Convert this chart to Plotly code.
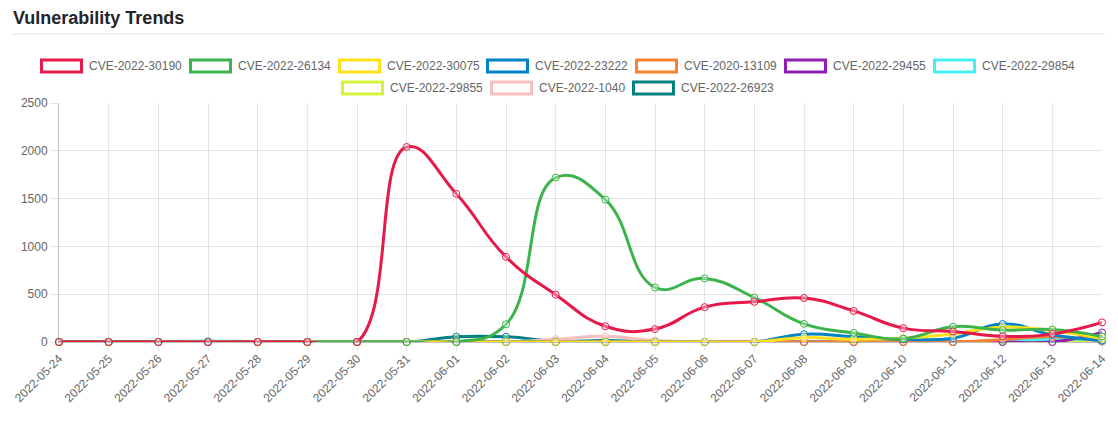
import plotly.graph_objects as go

dates = ["2022-05-24", "2022-05-25", "2022-05-26", "2022-05-27", "2022-05-28", "2022-05-29",
         "2022-05-30", "2022-05-31", "2022-06-01", "2022-06-02", "2022-06-03", "2022-06-04",
         "2022-06-05", "2022-06-06", "2022-06-07", "2022-06-08", "2022-06-09", "2022-06-10",
         "2022-06-11", "2022-06-12", "2022-06-13", "2022-06-14"]

cve_2022_30190 = [0, 0, 0, 0, 0, 0, 0, 2040, 1550, 890, 495, 165, 135, 365, 420, 460, 325, 145, 110, 60, 85, 205]
cve_2022_26134 = [0, 0, 0, 0, 0, 0, 0, 0, 0, 185, 1720, 1490, 570, 665, 465, 190, 95, 35, 160, 125, 130, 58]
cve_2022_30075 = [0, 0, 0, 0, 0, 0, 0, 0, 0, 0, 0, 0, 0, 0, 0, 45, 28, 40, 85, 155, 118, 35]
cve_2022_23222 = [0, 0, 0, 0, 0, 0, 0, 0, 0, 0, 0, 0, 0, 0, 0, 82, 55, 30, 40, 188, 75, 15]
cve_2020_13109 = [0, 0, 0, 0, 0, 0, 0, 0, 0, 0, 0, 0, 0, 0, 0, 0, 0, 0, 0, 25, 55, 10]
cve_2022_29455 = [0, 0, 0, 0, 0, 0, 0, 0, 0, 0, 0, 0, 0, 0, 0, 0, 0, 0, 0, 0, 0, 100]
cve_2022_29854 = [0, 0, 0, 10, 0, 0, 0, 0, 0, 0, 0, 0, 0, 0, 0, 0, 0, 0, 0, 15, 30, 25]
cve_2022_29855 = [0, 0, 0, 0, 0, 0, 0, 0, 0, 0, 0, 0, 0, 0, 0, 0, 0, 0, 0, 0, 0, 30]
cve_2022_1040 = [0, 0, 0, 0, 0, 0, 0, 0, 0, 0, 30, 60, 15, 0, 0, 0, 0, 0, 0, 0, 0, 0]
cve_2022_26923 = [0, 0, 0, 0, 0, 0, 0, 0, 55, 55, 10, 15, 0, 0, 0, 0, 0, 0, 0, 0, 0, 3]

series_names = ["CVE-2022-30190", "CVE-2022-26134", "CVE-2022-30075", "CVE-2022-23222",
                "CVE-2020-13109", "CVE-2022-29455", "CVE-2022-29854", "CVE-2022-29855",
                "CVE-2022-1040", "CVE-2022-26923"]
series_values = [cve_2022_30190, cve_2022_26134, cve_2022_30075, cve_2022_23222, cve_2020_13109,
                 cve_2022_29455, cve_2022_29854, cve_2022_29855, cve_2022_1040, cve_2022_26923]
colors = ["#e6194b", "#3cb44b", "#ffe119", "#0082c8", "#f58231", "#911eb4",
          "#46f0f0", "#d2f53c", "#fabebe", "#008080"]
y_ticks = [0, 500, 1000, 1500, 2000, 2500]

W, H = 1118, 428
L, R, T, B = 59, 16, 103, 86
PW, PH = W - L - R, H - T - B


def px(x):
    return (x - L) / PW


def py(y):
    return (H - B - y) / PH


fig = go.Figure()
# Chart.js draws the first dataset on top -> add in reverse
for name, vals, col in reversed(list(zip(series_names, series_values, colors))):
    fig.add_trace(go.Scatter(
        x=dates, y=vals, name=name, mode="lines+markers",
        line=dict(color=col, width=3, shape="spline", smoothing=1.3),
        marker=dict(symbol="circle", size=7, color="rgba(255,255,255,0.35)",
                    line=dict(color=col, width=1)),
        cliponaxis=False, showlegend=False,
    ))

font_fam = "Liberation Sans, Arial, Helvetica, sans-serif"
shapes = []
annotations = []

# title rule
shapes.append(dict(type="line", xref="paper", yref="paper", x0=px(13), x1=px(1105),
                   y0=py(34), y1=py(34), line=dict(color="#dee2e6", width=1)))

# custom legend (Chart.js style boxes)
legend_pos = [(41, 66), (190, 66), (339, 66), (487, 66), (636, 66), (785, 66), (934, 66),
              (342, 88), (491, 88), (633, 88)]
for (lx, ly), name, col in zip(legend_pos, series_names, colors):
    shapes.append(dict(type="rect", xref="paper", yref="paper",
                       x0=px(lx + 0.5), x1=px(lx + 40.5), y0=py(ly - 6), y1=py(ly + 6),
                       line=dict(color=col, width=3), fillcolor="rgba(255,255,255,0.6)"))
    annotations.append(dict(xref="paper", yref="paper", x=px(lx + 46), y=py(ly),
                            xanchor="left", yanchor="middle", showarrow=False, text=name,
                            font=dict(size=12, color="#666666", family=font_fam)))

fig.update_layout(
    width=W, height=H,
    margin=dict(l=L, r=R, t=T, b=B, autoexpand=False),
    paper_bgcolor="white", plot_bgcolor="white",
    title=dict(text="<b>Vulnerability Trends</b>", xref="container", yref="container",
               x=13 / W, xanchor="left", y=1 - 18 / H, yanchor="middle",
               font=dict(size=18, color="#212529", family=font_fam)),
    shapes=shapes, annotations=annotations,
    showlegend=False,
    xaxis=dict(type="category", range=[0, len(dates) - 1], tickangle=-45,
               showgrid=True, gridcolor="rgba(0,0,0,0.1)", gridwidth=1,
               ticks="outside", ticklen=8, tickcolor="rgba(0,0,0,0.1)",
               ticklabelstandoff=-4,
               showline=True, linecolor="rgba(0,0,0,0.25)", linewidth=1,
               tickfont=dict(size=12, color="#666666", family=font_fam), zeroline=False),
    yaxis=dict(range=[0, 2500], tickvals=y_ticks, ticktext=[str(v) for v in y_ticks],
               showgrid=True, gridcolor="rgba(0,0,0,0.1)", gridwidth=1,
               ticks="outside", ticklen=8, tickcolor="rgba(0,0,0,0.1)",
               showline=True, linecolor="rgba(0,0,0,0.25)", linewidth=1,
               tickfont=dict(size=12, color="#666666", family=font_fam), zeroline=False),
)

fig.write_html("out.html")
